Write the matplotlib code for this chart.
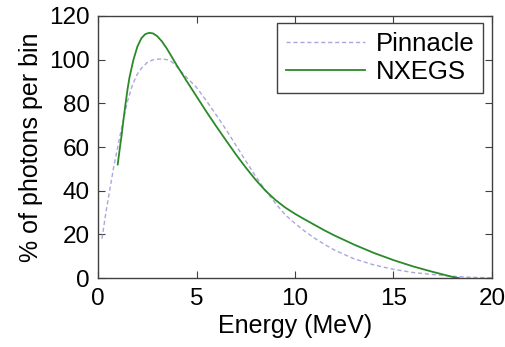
import matplotlib
matplotlib.use("Agg")
import matplotlib.pyplot as plt

# photon energy spectra, % of photons per bin vs energy (MeV)
pinnacle_e = [0.2, 0.4, 0.6, 0.8, 1.0, 1.25, 1.5, 1.75, 2.0, 2.25, 2.5, 2.75,
              3.0, 3.25, 3.5, 3.75, 4.0, 4.25, 4.5, 5.0, 5.5, 6.0, 6.5, 7.0,
              7.5, 8.0, 8.5, 9.0, 9.5, 10.0, 10.5, 11.0, 11.5, 12.0, 13.0,
              14.0, 15.0, 16.0, 17.0, 18.0, 19.0, 20.0]
pinnacle_y = [18, 30, 40.5, 51, 60, 71, 81, 88.5, 93.5, 96.6, 98.7, 99.8,
              100.2, 100.3, 100, 99, 96.8, 94.3, 91.8, 87.3, 81.2, 74.7, 68,
              60.8, 53.6, 46.6, 40.2, 34.3, 29, 25, 21.4, 18.2, 15.4, 12.8,
              8.8, 6, 4, 2.5, 1.6, 0.8, 0.3, 0.1]

nxegs_e = [1.0, 1.1, 1.2, 1.3, 1.4, 1.5, 1.6, 1.8, 2.0, 2.2, 2.4, 2.6, 2.8,
           3.0, 3.25, 3.5, 3.75, 4.0, 4.25, 4.5, 5.0, 5.5, 6.0, 6.5, 7.0,
           7.5, 8.0, 8.5, 9.0, 9.5, 10.0, 10.5, 11.0, 11.5, 12.0, 13.0, 14.0,
           15.0, 16.0, 17.0, 18.0, 18.3]
nxegs_y = [52, 59, 65.5, 73, 80, 86.5, 92, 100, 106, 109.8, 111.7, 112.3, 112,
           110.8, 108.3, 105, 101.2, 97.4, 93.8, 90.2, 83.2, 76.2, 69.5, 63,
           56.6, 50.6, 45, 40, 35.8, 32.3, 29.4, 26.8, 24.3, 21.8, 19.5, 15.3,
           11.5, 8.2, 5.3, 2.8, 0.5, 0]

plt.rcParams['font.family'] = ['Liberation Sans', 'DejaVu Sans']
plt.rcParams['font.size'] = 18

fig = plt.figure(figsize=(5.06, 3.47), dpi=100)
ax = fig.add_axes([0.1937, 0.1988, 0.7786, 0.7551])

ax.plot(pinnacle_e, pinnacle_y, color='#a8a8dc', lw=1.0, ls=(0, (3, 2)),
        label='Pinnacle')
ax.plot(nxegs_e, nxegs_y, color='#2a8a2a', lw=1.3, label='NXEGS')

ax.set_xlim(0, 20)
ax.set_ylim(0, 120)
ax.set_xticks([0, 5, 10, 15, 20])
ax.set_yticks([0, 20, 40, 60, 80, 100, 120])
ax.tick_params(direction='in', top=True, right=True, length=5, width=0.8,
               color='#404040', labelsize=17.5, pad=6)
ax.tick_params(axis='x', pad=7)
for s in ax.spines.values():
    s.set_color('#404040')
    s.set_linewidth(1.0)

ax.set_xlabel('Energy (MeV)', labelpad=3)
ax.set_ylabel('% of photons per bin', labelpad=4)

leg = ax.legend(loc='upper right', bbox_to_anchor=(0.978, 0.974),
                borderaxespad=0, fancybox=False, handlelength=3.1,
                handletextpad=0.4, labelspacing=0.15, borderpad=0.35,
                framealpha=1, fontsize=18.5)
leg.get_frame().set_edgecolor('#404040')
leg.get_frame().set_linewidth(1.0)

fig.savefig('out.png', dpi=100)
